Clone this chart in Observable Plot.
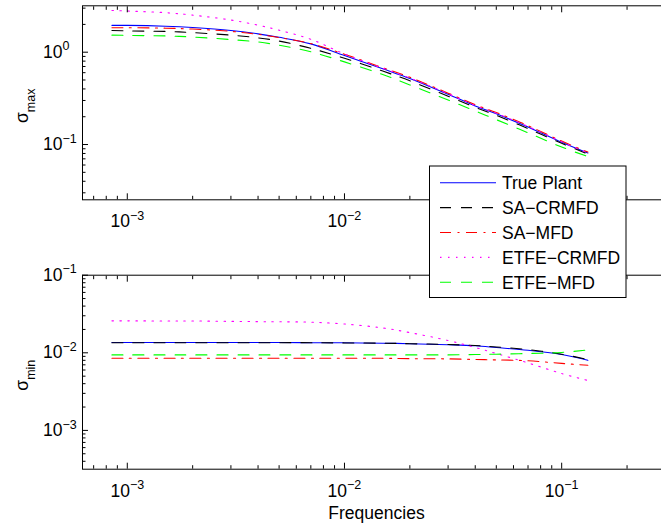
<!DOCTYPE html>
<html>
<head>
<meta charset="utf-8">
<script src="https://cdn.jsdelivr.net/npm/d3@7"></script>
<script src="https://cdn.jsdelivr.net/npm/@observablehq/plot@0.6"></script>
<style>
  body { margin: 0; background: #fff; }
  #chart { position: relative; width: 661px; height: 526px; overflow: hidden; background: #fff; }
  #chart svg { display: block; max-width: none; }
</style>
</head>
<body>
<div id="chart"></div>
<script>
// Frequency grid shared by every estimate
const freq = [8.5e-4, 1e-3, 1.5e-3, 2e-3, 3e-3, 4e-3, 5e-3, 7e-3, 0.01, 0.015, 0.02, 0.03, 0.04, 0.05, 0.07, 0.1, 0.132];

// Largest singular value
const truePlantMax  = [1.95, 1.95, 1.91, 1.85, 1.72, 1.58, 1.45, 1.23, 0.92, 0.66, 0.52, 0.35, 0.262, 0.215, 0.155, 0.106, 0.081];
const saCrmfdMax    = [1.72, 1.70, 1.68, 1.63, 1.53, 1.43, 1.32, 1.10, 0.86, 0.625, 0.49, 0.333, 0.253, 0.207, 0.149, 0.103, 0.079];
const saMfdMax      = [1.84, 1.84, 1.82, 1.78, 1.68, 1.56, 1.44, 1.24, 0.95, 0.68, 0.535, 0.36, 0.27, 0.222, 0.16, 0.109, 0.083];
const etfeCrmfdMax  = [2.83, 2.79, 2.68, 2.52, 2.23, 1.96, 1.73, 1.38, 0.955, 0.67, 0.525, 0.355, 0.264, 0.218, 0.157, 0.107, 0.081];
const etfeMfdMax    = [1.53, 1.52, 1.50, 1.46, 1.37, 1.29, 1.19, 1.01, 0.785, 0.572, 0.442, 0.303, 0.231, 0.186, 0.134, 0.094, 0.074];

// Smallest singular value
const truePlantMin  = [0.0136, 0.0136, 0.0136, 0.0136, 0.0136, 0.0136, 0.0136, 0.0135, 0.01345, 0.0133, 0.0131, 0.0127, 0.0123, 0.0117, 0.0108, 0.0095, 0.0080];
const saCrmfdMin    = [0.0135, 0.0135, 0.0135, 0.0135, 0.0135, 0.0135, 0.0135, 0.0135, 0.0134, 0.0133, 0.0131, 0.0128, 0.0124, 0.0119, 0.0110, 0.0096, 0.0082];
const saMfdMin      = [0.0085, 0.0085, 0.0085, 0.0085, 0.0085, 0.0085, 0.0085, 0.0085, 0.0085, 0.0085, 0.0084, 0.00835, 0.0082, 0.0081, 0.0079, 0.0073, 0.0069];
const etfeCrmfdMin  = [0.0258, 0.0258, 0.0257, 0.0257, 0.0254, 0.0252, 0.0251, 0.0248, 0.0235, 0.0209, 0.0182, 0.0144, 0.0117, 0.0098, 0.0074, 0.0054, 0.0044];
const etfeMfdMin    = [0.0094, 0.0094, 0.0094, 0.0094, 0.0094, 0.0094, 0.0094, 0.0094, 0.0094, 0.0094, 0.0094, 0.0094, 0.0095, 0.0096, 0.0098, 0.0101, 0.0109];

const seriesNames = ["True Plant", "SA\u2212CRMFD", "SA\u2212MFD", "ETFE\u2212CRMFD", "ETFE\u2212MFD"];

// Tick values
const xMajor = [1e-3, 1e-2, 1e-1];
const xLabelsTop = [1e-3, 1e-2];          // the 10^-1 label sits under the legend
const xMinor = [7e-4, 8e-4, 9e-4, 2e-3, 3e-3, 4e-3, 5e-3, 6e-3, 7e-3, 8e-3, 9e-3,
                2e-2, 3e-2, 4e-2, 5e-2, 6e-2, 7e-2, 8e-2, 9e-2, 2e-1, 3e-1];
const yMajorTop = [0.1, 1];
const yMinorTop = [0.03, 0.04, 0.05, 0.06, 0.07, 0.08, 0.09, 0.2, 0.3, 0.4, 0.5, 0.6, 0.7, 0.8, 0.9, 2, 3];
const yMajorBottom = [1e-3, 1e-2, 1e-1];
const yMinorBottom = [4e-4, 5e-4, 6e-4, 7e-4, 8e-4, 9e-4, 2e-3, 3e-3, 4e-3, 5e-3, 6e-3, 7e-3, 8e-3, 9e-3,
                      2e-2, 3e-2, 4e-2, 5e-2, 6e-2, 7e-2, 8e-2, 9e-2];

// Line styles, in series order
const colors = ["#0000ff", "#000000", "#ff0000", "#ff00ff", "#00ff00"];
const dashes = [undefined, "11,10", "11,6.5,2,6.5", "1.5,6.5", "11,10"];

const FONT = '"Liberation Sans", Arial, Helvetica, sans-serif';
const FS = 17.5;

const pow10 = d => `10^${Math.round(Math.log10(d))}`.replace("-", "\u2212");

function rows(list) {
  return list.flatMap((vals, s) => vals.map((v, i) => ({f: freq[i], v, s})));
}

// Turn "a^b" / "a_b" strings into base text with a raised / lowered tspan
function applyTex(svg) {
  d3.select(svg).selectAll("text").each(function () {
    const m = this.textContent.match(/^(.*?)([\^_])(.+)$/);
    if (!m) return;
    this.textContent = m[1];
    d3.select(this).append("tspan")
      .attr("font-size", 12.5)
      .attr("dy", m[2] === "^" ? -7.5 : 7)
      .text(m[3]);
  });
}

function panel({values, yDomain, yMajor, yMinor, xLabels, height, marginTop, marginBottom, yLabel, xTitle}) {
  const data = rows(values);
  const tickAxes = [
    Plot.axisX({ticks: xMinor, anchor: "bottom", tickSize: -3.5, fill: "none", label: null}),
    Plot.axisX({ticks: xMajor, anchor: "bottom", tickSize: -6, fill: "none", label: null}),
    Plot.axisX({ticks: xMinor, anchor: "top", tickSize: -3.5, fill: "none", label: null}),
    Plot.axisX({ticks: xMajor, anchor: "top", tickSize: -6, fill: "none", label: null}),
    Plot.axisY({ticks: yMinor, anchor: "left", tickSize: -3.5, fill: "none", label: null}),
    Plot.axisY({ticks: yMajor, anchor: "left", tickSize: -6, fill: "none", label: null})
  ];
  const labelAxes = [
    Plot.axisX({ticks: xLabels, anchor: "bottom", tickSize: 0, tickPadding: 15, tickFormat: pow10, label: null}),
    Plot.axisY({ticks: yMajor, anchor: "left", tickSize: 0, tickPadding: 39.5, textAnchor: "start", tickFormat: pow10, label: null})
  ];
  const lines = values.map((_, k) =>
    Plot.line(data.filter(d => d.s === k), {
      x: "f", y: "v", stroke: colors[k], strokeWidth: 1.1,
      strokeDasharray: dashes[k], curve: "catmull-rom"
    })
  );
  const titles = [
    Plot.text([yLabel], {frameAnchor: "left", textAnchor: "middle", rotate: -90, lineAnchor: "bottom", dx: -55, dy: 3, fill: "black"})
  ];
  if (xTitle) titles.push(Plot.text([xTitle], {frameAnchor: "bottom", textAnchor: "middle", lineAnchor: "bottom", dy: 49.3, fill: "black"}));

  const svg = Plot.plot({
    width: 670,
    height,
    marginLeft: 82,
    marginRight: 0,
    marginTop,
    marginBottom,
    x: {type: "log", domain: [6.22e-4, 0.317]},
    y: {type: "log", domain: yDomain},
    style: {fontFamily: FONT, fontSize: FS + "px", color: "black", background: "white", maxWidth: "none", overflow: "hidden"},
    marks: [...lines, Plot.frame({stroke: "black", strokeWidth: 1}), ...tickAxes, ...labelAxes, ...titles]
  });
  svg.style.maxWidth = "none";
  svg.style.display = "block";
  applyTex(svg);
  return svg;
}

const chart = document.getElementById("chart");

chart.appendChild(panel({
  values: [truePlantMax, saCrmfdMax, saMfdMax, etfeCrmfdMax, etfeMfdMax],
  yDomain: [0.0252, 3.18],
  yMajor: yMajorTop,
  yMinor: yMinorTop,
  xLabels: xLabelsTop,
  height: 240,
  marginTop: 5.3,
  marginBottom: 40.7,
  yLabel: "\u03c3_max"
}));

chart.appendChild(panel({
  values: [truePlantMin, saCrmfdMin, saMfdMin, etfeCrmfdMin, etfeMfdMin],
  yDomain: [3.162e-4, 0.1],
  yMajor: yMajorBottom,
  yMinor: yMinorBottom,
  xLabels: xMajor,
  height: 286,
  marginTop: 34.7,
  marginBottom: 57.3,
  yLabel: "\u03c3_min",
  xTitle: "Frequencies"
}));

// Legend box spanning both panels
const leg = d3.select(chart).append("svg")
  .attr("width", 661).attr("height", 526)
  .style("position", "absolute").style("left", 0).style("top", 0)
  .style("font-family", FONT).style("font-size", FS + "px");
leg.append("rect")
  .attr("x", 429.5).attr("y", 166).attr("width", 196.5).attr("height", 131.5)
  .attr("fill", "white").attr("stroke", "black").attr("stroke-width", 1);
seriesNames.forEach((name, k) => {
  const y = 182.7 + k * 24.9;
  leg.append("line")
    .attr("x1", 440).attr("x2", 496).attr("y1", y).attr("y2", y)
    .attr("stroke", colors[k]).attr("stroke-width", 1.1)
    .attr("stroke-dasharray", dashes[k] ?? null);
  leg.append("text").attr("x", 502).attr("y", y + 6.2).attr("fill", "black").text(name);
});
</script>
</body>
</html>
